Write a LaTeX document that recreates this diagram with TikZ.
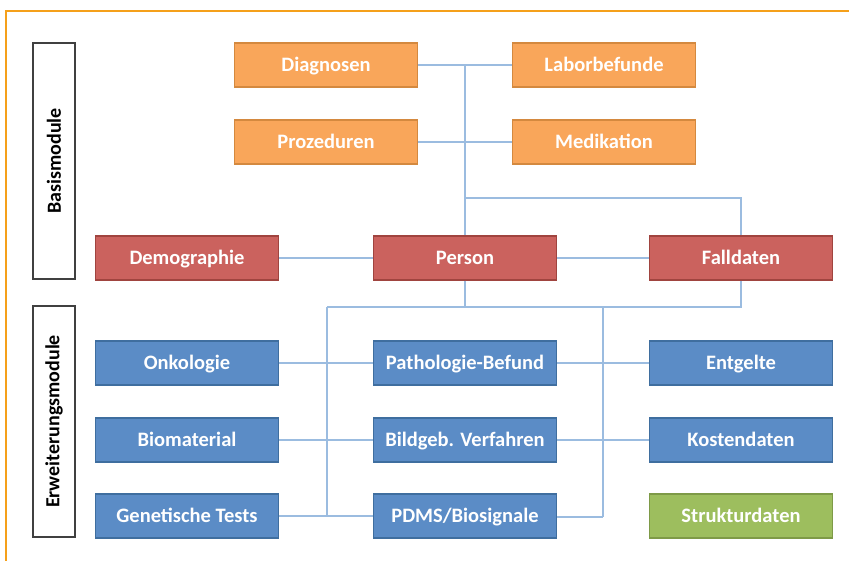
\documentclass[tikz,border=0pt]{standalone}
\usepackage{fontspec}
\setmainfont{Carlito}
\definecolor{frameor}{HTML}{F5A01A}
\definecolor{orfill}{HTML}{F9A65A}
\definecolor{ordraw}{HTML}{D4893F}
\definecolor{rdfill}{HTML}{CB625E}
\definecolor{rddraw}{HTML}{A0443F}
\definecolor{blfill}{HTML}{5B8CC6}
\definecolor{bldraw}{HTML}{3F6E9F}
\definecolor{grfill}{HTML}{9DBE5E}
\definecolor{grdraw}{HTML}{7E9A47}
\definecolor{conn}{HTML}{9BBCE0}
\tikzset{
  box/.style={rectangle, minimum width=183pt, minimum height=44pt, inner sep=0pt,
    text height=16pt, text depth=3pt,
    line width=1.2pt, text=white, font=\fontsize{20.5}{24}\selectfont\bfseries},
  obox/.style={box, fill=orfill, draw=ordraw},
  rbox/.style={box, fill=rdfill, draw=rddraw},
  bbox/.style={box, fill=blfill, draw=bldraw},
  gbox/.style={box, fill=grfill, draw=grdraw},
  labbox/.style={rectangle, draw=black!75, line width=1.3pt, minimum width=42pt, inner sep=0pt},
  labtext/.style={rotate=90, font=\fontsize{20}{24}\selectfont\bfseries},
  cn/.style={draw=conn, line width=1.6pt},
}
\begin{document}
\begin{tikzpicture}[x=1pt,y=-1pt]
\useasboundingbox (0,0) rectangle (849,560);
\clip (0,0) rectangle (849,560);
\fill[white] (0,0) rectangle (849,560);
\draw[frameor, line width=2pt] (6,600) -- (6,11) -- (900,11);

% label boxes
\node[labbox, minimum height=236pt] (lb1) at (54,161) {};
\node[labtext] (lt1) at (lb1.center) {Basismodule};
\node[labbox, minimum height=231pt] (lb2) at (54,421.5) {};
\node[labtext] (lt2) at (lb2.center) {Erweiterungsmodule};

% coordinates for connectors
\coordinate (t1) at (465,65);
\coordinate (t3) at (465,198);
\coordinate (t4) at (741,198);
\coordinate (m1) at (465,307);
\coordinate (mL) at (327,307);
\coordinate (mR) at (741,307);
\coordinate (mM) at (603,307);
\coordinate (bL) at (327,517);
\coordinate (bR) at (603,517);

% orange
\node[obox] (diag) at (326,65) {Diagnosen};
\node[obox] (labor) at (604,65) {Laborbefunde};
\node[obox] (proz) at (326,142) {Prozeduren};
\node[obox] (medi) at (604,142) {Medikation};
% red
\node[rbox] (demo) at (187,258) {Demographie};
\node[rbox] (pers) at (465,258) {Person};
\node[rbox] (fall) at (741,258) {Falldaten};
% blue
\node[bbox] (onko) at (187,363) {Onkologie};
\node[bbox] (path) at (465,363) {Pathologie-Befund};
\node[bbox] (entg) at (741,363) {Entgelte};
\node[bbox] (bio) at (187,440) {Biomaterial};
\node[bbox] (bild) at (465,440) {Bildgeb. Verfahren};
\node[bbox] (kost) at (741,440) {Kostendaten};
\node[bbox] (gen) at (187,516) {Genetische Tests};
\node[bbox] (pdms) at (465,516) {PDMS/Biosignale};
\node[gbox] (struk) at (741,516) {Strukturdaten};

% connectors
\draw[cn] (diag) -- (labor);
\draw[cn] (proz) -- (medi);
\draw[cn] (t1) -- (t3) -- (pers);
\draw[cn] (t3) -- (t4) -- (fall);
\draw[cn] (demo) -- (pers);
\draw[cn] (pers) -- (fall);
\draw[cn] (pers) -- (m1);
\draw[cn] (mL) -- (mR) -- (fall);
\draw[cn] (mL) -- (bL);
\draw[cn] (mM) -- (bR);
\draw[cn] (onko) -- (path);
\draw[cn] (path) -- (entg);
\draw[cn] (bio) -- (bild);
\draw[cn] (bild) -- (kost);
\draw[cn] (gen) -- (pdms);
\draw[cn] (pdms.east |- bR) -- (bR);
\end{tikzpicture}
\end{document}
